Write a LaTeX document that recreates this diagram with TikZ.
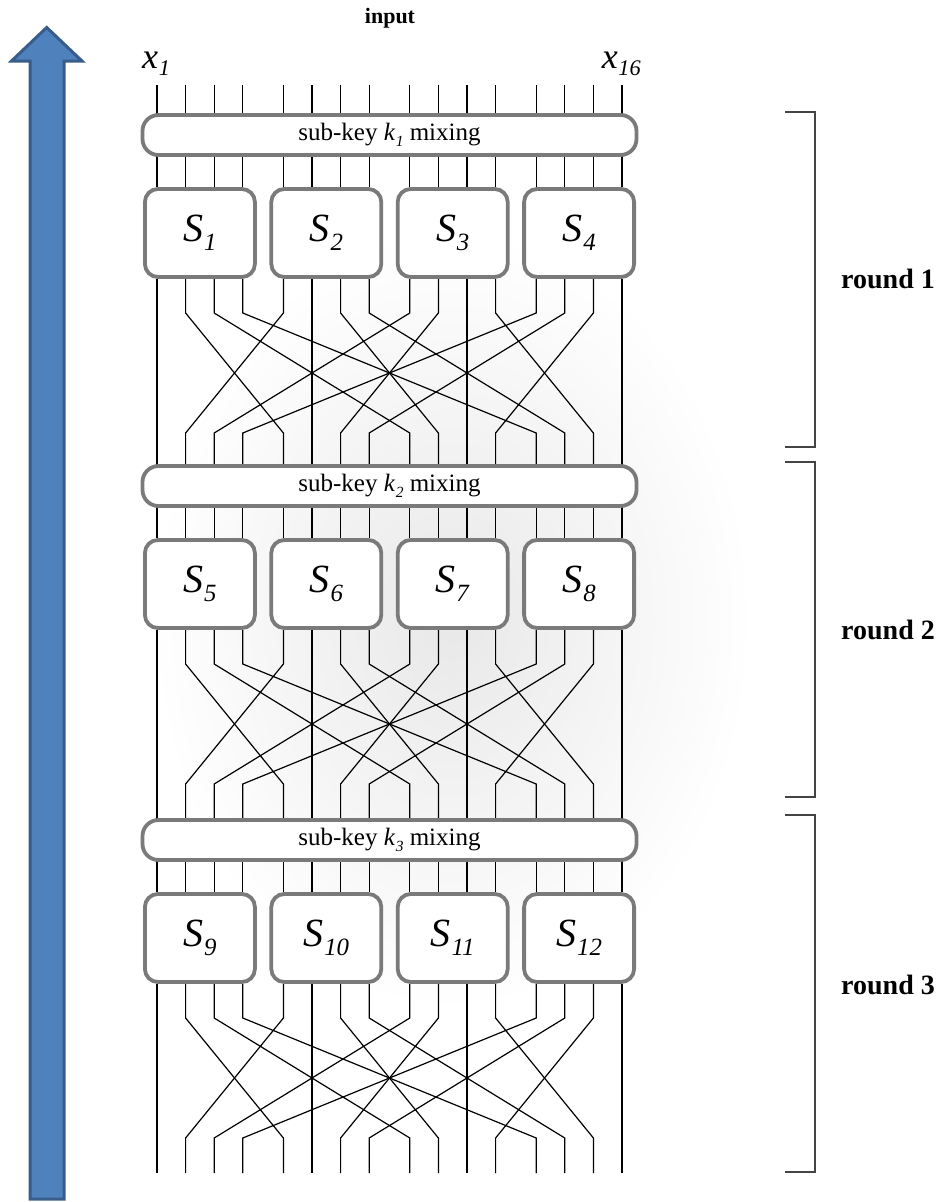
\documentclass[tikz,border=0pt]{standalone}
\usepackage{fontspec}
\setmainfont{Liberation Serif}
\definecolor{boxgray}{HTML}{7A7A7A}
\definecolor{arrowfill}{HTML}{4F81BD}
\definecolor{arrowedge}{HTML}{385D8A}
\definecolor{brk}{HTML}{444444}
\newcommand\sublab[2]{\textit{#1}\kern0.02em\raisebox{-0.22em}{\scalebox{0.62}{\textit{#2}}}}
\begin{document}
\begin{tikzpicture}[x=1pt,y=-1pt,
  wire/.style={line width=1.2pt,black},
  kbox/.style={draw=boxgray,line width=3.8pt,fill=white,rounded corners=16pt,
    minimum width=494pt,minimum height=40pt,inner sep=0pt,
    font=\fontsize{25}{28}\selectfont},
  sbox/.style={draw=boxgray,line width=3.8pt,fill=white,rounded corners=13pt,
    minimum width=110pt,minimum height=88pt,inner sep=0pt,
    font=\fontsize{40}{42}\selectfont},
  bracket/.style={draw=brk,line width=1.6pt},
  roundlabel/.style={font=\bfseries\fontsize{28}{30}\selectfont},
  xlabel/.style={font=\fontsize{36}{38}\selectfont,inner sep=0pt}]
\useasboundingbox (0,0) rectangle (941,1202);
% faint background glow
\shade[inner color=black!9,outer color=white] (452,620) ellipse [x radius=300,y radius=390];
% wires
\foreach \r/\kt/\kn/\st in {1/113/464/85, 2/464/818/464, 3/818/1173/818}{
  \foreach \i in {0,...,15}{
    \pgfmathsetmacro\xa{157+126.4*int(\i/4)+28.6*mod(\i,4)}
    \pgfmathsetmacro\xb{157+126.4*mod(\i,4)+28.6*int(\i/4)}
    \draw[wire] (\xa,\st) -- (\xa,\kt+74);
    \draw[wire] (\xa,\kt+166) -- (\xa,\kt+200) -- (\xb,\kt+320) -- (\xb,\kn);
  }
}
% boxes
\foreach \r/\kt in {1/113,2/464,3/818}{
  \node[kbox] (k\r) at (389.5,\kt+22) {sub-key \sublab{k}{\r} mixing};
  \foreach \g in {0,...,3}{
    \pgfmathtruncatemacro\n{4*(\r-1)+\g+1}
    \pgfmathsetmacro\cx{157+126.4*\g+42.9}
    \node[sbox] (s\n) at (\cx,\kt+120) {\sublab{S}{\n}};
  }
}
% labels
\node[font=\bfseries\fontsize{22}{24}\selectfont] (input) at (390,18) {input};
\node[xlabel,anchor=base west] (x1) at (142,68) {\sublab{x}{1}};
\node[xlabel,anchor=base east] (x16) at (641,68) {\sublab{x}{16}};
% round brackets
\coordinate (b1a) at (785,112); \coordinate (b1b) at (785,447);
\coordinate (b2a) at (785,462); \coordinate (b2b) at (785,797);
\coordinate (b3a) at (785,815); \coordinate (b3b) at (785,1172);
\draw[bracket] (b1a) -- ++(30,0) |- (b1b);
\draw[bracket] (b2a) -- ++(30,0) |- (b2b);
\draw[bracket] (b3a) -- ++(30,0) |- (b3b);
\node[roundlabel] (r1) at (888,279) {round 1};
\node[roundlabel] (r2) at (888,630) {round 2};
\node[roundlabel] (r3) at (888,985) {round 3};
% big blue arrow
\filldraw[fill=arrowfill,draw=arrowedge,line width=3pt,line join=miter]
  (30,1199) -- (30,61) -- (11.5,61) -- (46.7,27.5) -- (82,61) -- (64,61) -- (64,1199) -- cycle;
\end{tikzpicture}
\end{document}
